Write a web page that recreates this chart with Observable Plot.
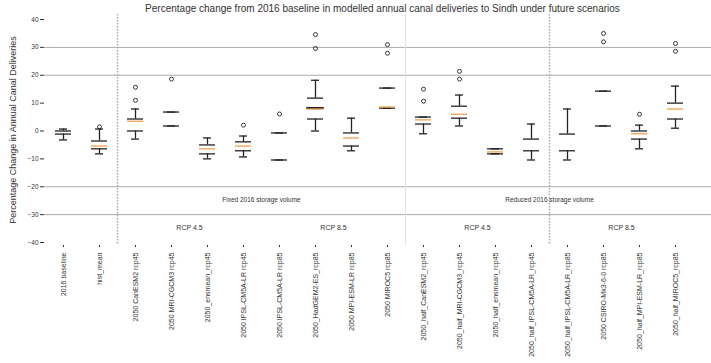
<!DOCTYPE html>
<html>
<head>
<meta charset="utf-8">
<script src="https://cdn.jsdelivr.net/npm/d3@7"></script>
<script src="https://cdn.jsdelivr.net/npm/@observablehq/plot@0.6"></script>
<style>
  body { margin: 0; background: #fff; font-family: "Liberation Sans", Arial, sans-serif; }
  #title { height: 14px; width: 711px; box-sizing: border-box; padding-left: 54px; text-align: center; font-size: 10px; line-height: 17px; color: #333; white-space: nowrap; }
</style>
</head>
<body>
<div id="title">Percentage change from 2016 baseline in modelled annual canal deliveries to Sindh under future scenarios</div>
<div id="chart"></div>
<script>
const categories = [
  "2016 baseline", "hist_mean",
  "2050 CanESM2 rcp45", "2050 MRI-CGCM3 rcp45", "2050_ensmean_rcp45", "2050 IPSL-CM5A-LR rcp45",
  "2050 IPSL-CM5A-LR rcp85", "2050_HadGEM2-ES_rcp85", "2050 MPI-ESM-LR rcp85", "2050 MIROC5 rcp85",
  "2050_half_CanESM2_rcp45", "2050_half_MRI-CGCM3_rcp45", "2050_half_ensmean_rcp45", "2050_half_IPSL-CM5A-LR_rcp45",
  "2050_half_IPSL-CM5A-LR_rcp85", "2050 CSIRO-Mk3-6-0 rcp85", "2050_half_MPI-ESM-LR_rcp85", "2050_half_MIROC5_rcp85"
];
const boxMin    = [-3.2, -8.2, -2.9, 1.8, -10.0, -9.3, -10.4, 0.0, -7.1, 8.2, -1.0, 1.8, -8.2, -10.4, -10.4, 1.8, -6.4, 1.0];
const boxQ1     = [-1.1, -6.4, 0.0, 1.8, -8.2, -7.1, -10.4, 4.3, -5.4, 8.2, 2.5, 4.6, -8.2, -7.1, -7.1, 1.8, -2.9, 4.3];
const boxMedian = [0.0, -5.4, 3.5, 6.8, -6.4, -5.4, -0.7, 7.9, -2.5, 8.6, 4.0, 6.0, -7.5, -2.9, -1.1, 14.3, -1.0, 7.9];
const boxQ3     = [0.0, -3.6, 4.3, 6.8, -5.0, -3.9, -0.7, 11.8, -0.7, 15.4, 5.0, 8.9, -6.4, -2.9, -1.1, 14.3, 0.0, 10.0];
const boxMax    = [0.7, 0.7, 7.9, 6.8, -2.5, -1.8, -0.7, 18.2, 4.6, 15.4, 5.0, 12.9, -6.4, 2.5, 7.9, 14.3, 2.1, 16.1];
const outlierCategory = [1, 2, 2, 3, 5, 6, 7, 7, 9, 9, 10, 10, 11, 11, 15, 15, 16, 17, 17];
const outlierValue    = [1.5, 11, 15.7, 18.6, 2.1, 6.1, 29.6, 34.6, 27.9, 31, 10.7, 15, 18.6, 21.4, 32, 35, 6, 28.6, 31.4];
const yTicks = [-40, -30, -20, -10, 0, 10, 20, 30, 40];
const gridValues = [30, 20, -20, -30];
const groupLabels = ["RCP 4.5", "RCP 8.5", "RCP 4.5", "RCP 8.5"];
const groupAfter = [3, 7, 11, 15];
const storageLabels = ["Fixed 2016 storage volume", "Reduced 2016 storage volume"];
const storageAfter = [5, 13];
const yLabel = "Percentage Change in Annual Canal Deliveries";

const boxes = categories.map((c, i) => ({cat: c, min: boxMin[i], q1: boxQ1[i], med: boxMedian[i], q3: boxQ3[i], max: boxMax[i]}));
const sided = boxes.filter(d => d.max > d.q3 || d.min < d.q1);
const outliers = outlierCategory.map((ci, j) => ({cat: categories[ci], v: outlierValue[j]}));
const groups = groupLabels.map((g, i) => ({cat: categories[groupAfter[i]], label: g}));
const storage = storageLabels.map((s, i) => ({cat: categories[storageAfter[i]], label: s}));

const ink = "#222";
const half = 18;

const chart = Plot.plot({
  width: 711,
  height: 349,
  marginLeft: 44,
  marginRight: 0,
  marginTop: 0,
  marginBottom: 118,
  style: {fontFamily: "'Liberation Sans', Arial, sans-serif", color: "#333", background: "#fff"},
  x: {type: "band", domain: categories, range: [44, 693], padding: 0},
  y: {domain: [-40, 40], range: [228, 5]},
  marks: [
    Plot.ruleY(gridValues, {stroke: "#aaa", strokeWidth: 1}),
    Plot.ruleX([categories[9]], {dx: half, stroke: "#e4e4e4", strokeWidth: 1}),
    Plot.ruleX([categories[1], categories[13]], {dx: half, stroke: "#aaa", strokeWidth: 1.5, strokeDasharray: "1.5,1.5"}),
    Plot.axisY({ticks: yTicks, tickSize: 4, tickPadding: 2, fontSize: 6.5, label: null}),
    Plot.axisX({tickSize: 2, tickPadding: 5, tickRotate: -90, fontSize: 7, label: null}),
    Plot.text([yLabel], {frameAnchor: "left", textAnchor: "middle", rotate: -90, dx: -31, fontSize: 9, fill: "#333"}),
    Plot.ruleX(boxes, {x: "cat", y1: "q3", y2: "max", stroke: ink, strokeWidth: 1.3}),
    Plot.ruleX(boxes, {x: "cat", y1: "q1", y2: "min", stroke: ink, strokeWidth: 1.3}),
    Plot.tickY(boxes, {x: "cat", y: "max", inset: 14, stroke: ink, strokeWidth: 1.3}),
    Plot.tickY(boxes, {x: "cat", y: "min", inset: 14, stroke: ink, strokeWidth: 1.3}),
    Plot.rect(sided, {x: "cat", y1: "q1", y2: "q3", inset: 10, fill: "white", stroke: ink, strokeWidth: 1.3}),
    Plot.tickY(boxes, {x: "cat", y: "q1", inset: 10, stroke: ink, strokeWidth: 1.3}),
    Plot.tickY(boxes, {x: "cat", y: "q3", inset: 10, stroke: ink, strokeWidth: 1.3}),
    Plot.tickY(boxes.filter(d => d.med !== d.q3), {x: "cat", y: "med", inset: 10, stroke: "#f0a050", strokeWidth: 1.3}),
    Plot.dot(outliers, {x: "cat", y: "v", r: 2, stroke: ink, fill: "none", strokeWidth: 0.9}),
    Plot.text(groups, {x: "cat", y: -34.6, dx: half, text: "label", fontSize: 7, fill: "#333"}),
    Plot.text(storage, {x: "cat", y: -24.6, dx: half, text: "label", fontSize: 6.5, fill: "#333"})
  ]
});
document.getElementById("chart").appendChild(chart);
</script>
</body>
</html>
